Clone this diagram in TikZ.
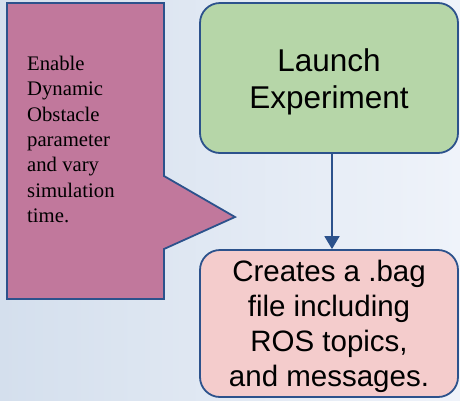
\documentclass[tikz,border=0pt]{standalone}
\usepackage{fontspec}
\setmainfont{Liberation Serif}
\setsansfont{Liberation Sans}
\usepackage{xcolor}
\usepackage{tikz}
\usetikzlibrary{positioning,arrows.meta,calc}
\definecolor{bgleft}{RGB}{212,223,237}
\definecolor{bgright}{RGB}{239,243,250}
\definecolor{edgecolor}{RGB}{44,82,140}
\definecolor{notecolor}{RGB}{193,120,156}
\definecolor{launchcolor}{RGB}{182,214,168}
\definecolor{bagcolor}{RGB}{244,204,204}
\tikzset{
  flow box/.style={
    rectangle,
    rounded corners=20pt,
    draw=edgecolor,
    line width=1.8pt,
    minimum width=258pt
  },
  flow text/.style={
    align=center,
    inner sep=0pt,
    font=\sffamily\fontsize{31.5}{37}\selectfont
  },
  note shape/.style={
    draw=edgecolor,
    fill=notecolor,
    line width=1.8pt,
    line join=miter
  },
  flow arrow/.style={
    -{Triangle[length=13pt,width=15pt]},
    draw=edgecolor,
    line width=1.8pt
  }
}

\begin{document}
\begin{tikzpicture}[x=1pt,y=-1pt]
  % Background
  \shade[left color=bgleft, right color=bgright] (0,0) rectangle (460,400);
  \useasboundingbox (0,0) rectangle (460,400);

  % Callout
  \draw[note shape] (7,3) -- (164,3) -- (164,176) -- (235,217) -- (164,249)
    -- (164,299) -- (7,299) -- cycle;
  \node[anchor=north west, align=left, inner sep=0pt,
        font=\rmfamily\fontsize{20.7}{25.3}\selectfont] (note) at (27,56)
    {Enable\\Dynamic\\Obstacle\\parameter\\and vary\\simulation\\time.};

  % Boxes
  \node[flow box, fill=launchcolor, minimum height=150pt] (launch) at (329,78) {};
  \node[flow text] (launchtext) at ($(launch.center)+(0,4)$)
    {Launch\\Experiment};
  \node[flow box, fill=bagcolor, minimum height=147pt] (bag) at (329,323.5) {};
  \node[flow text, font=\sffamily\fontsize{29.5}{35}\selectfont] (bagtext)
    at ($(bag.center)+(0,3)$)
    {Creates a .bag\\file including\\ROS topics,\\and messages.};

  % Connection
  \draw[flow arrow] ([xshift=3pt]launch.south) -- ([xshift=3pt]bag.north);
\end{tikzpicture}
\end{document}
